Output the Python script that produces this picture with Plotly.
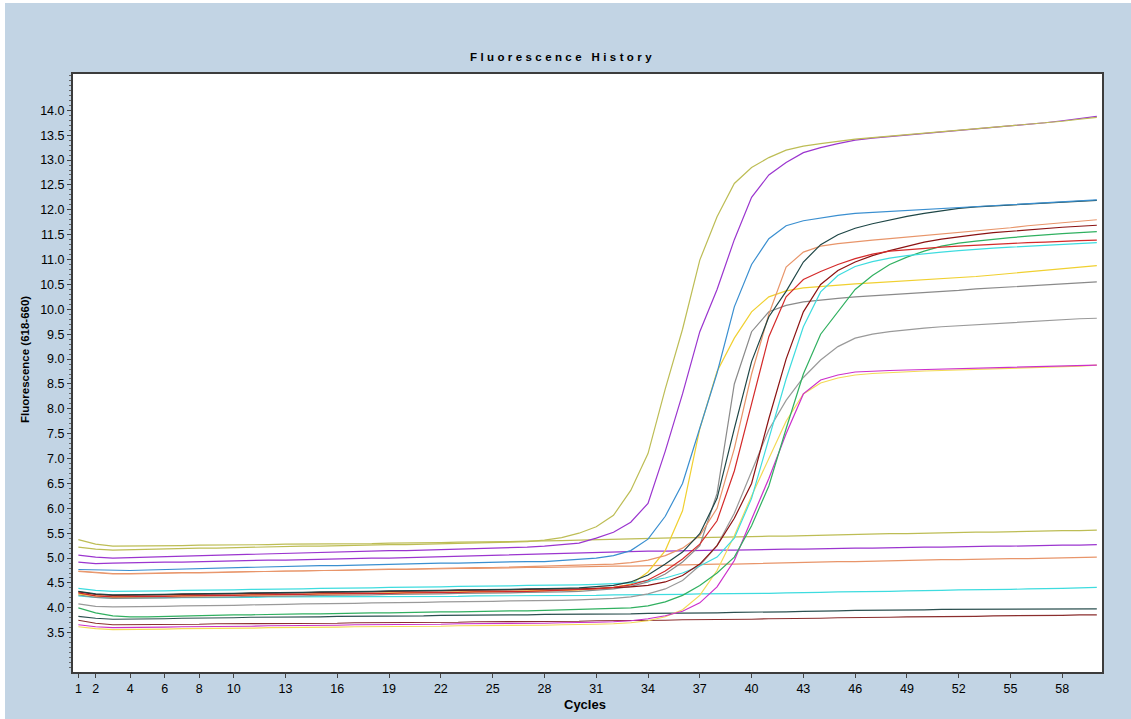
import plotly.graph_objects as go

cycles = list(range(1, 61))

olive_amp = [5.22, 5.18, 5.16, 5.17, 5.18, 5.18, 5.19, 5.20, 5.20, 5.21,
             5.22, 5.22, 5.23, 5.24, 5.24, 5.25, 5.26, 5.26, 5.27, 5.27,
             5.28, 5.29, 5.29, 5.30, 5.31, 5.32, 5.33, 5.36, 5.41, 5.50,
             5.63, 5.86, 6.36, 7.10, 8.40, 9.60, 10.99, 11.86, 12.53, 12.85,
             13.05, 13.20, 13.28, 13.33, 13.38, 13.42, 13.45, 13.48, 13.51, 13.54,
             13.57, 13.60, 13.62, 13.65, 13.68, 13.71, 13.74, 13.78, 13.82, 13.86]
purple_amp = [5.06, 5.02, 5.00, 5.01, 5.02, 5.03, 5.04, 5.05, 5.06, 5.07,
              5.08, 5.08, 5.09, 5.10, 5.11, 5.12, 5.13, 5.14, 5.15, 5.15,
              5.16, 5.17, 5.17, 5.18, 5.19, 5.20, 5.22, 5.24, 5.27, 5.30,
              5.40, 5.52, 5.72, 6.10, 7.15, 8.30, 9.55, 10.40, 11.40, 12.25,
              12.70, 12.95, 13.15, 13.25, 13.33, 13.40, 13.44, 13.47, 13.51, 13.54,
              13.57, 13.60, 13.63, 13.66, 13.69, 13.72, 13.75, 13.79, 13.83, 13.88]
blue_amp = [4.77, 4.76, 4.75, 4.75, 4.76, 4.77, 4.78, 4.79, 4.80, 4.81,
            4.82, 4.82, 4.83, 4.84, 4.85, 4.85, 4.86, 4.87, 4.88, 4.88,
            4.89, 4.90, 4.90, 4.91, 4.91, 4.92, 4.93, 4.93, 4.95, 4.97,
            5.00, 5.05, 5.15, 5.38, 5.84, 6.50, 7.60, 8.72, 10.05, 10.90,
            11.42, 11.68, 11.78, 11.84, 11.89, 11.93, 11.95, 11.97, 11.99, 12.01,
            12.03, 12.05, 12.07, 12.09, 12.11, 12.13, 12.15, 12.17, 12.19, 12.20]
darkteal_amp = [4.33, 4.28, 4.26, 4.26, 4.27, 4.27, 4.28, 4.28, 4.29, 4.29,
                4.30, 4.30, 4.31, 4.31, 4.32, 4.32, 4.33, 4.33, 4.34, 4.34,
                4.35, 4.35, 4.36, 4.36, 4.37, 4.37, 4.38, 4.38, 4.39, 4.40,
                4.42, 4.45, 4.52, 4.66, 4.88, 5.12, 5.49, 6.20, 7.60, 8.95,
                9.85, 10.36, 10.95, 11.30, 11.50, 11.63, 11.72, 11.80, 11.87, 11.93,
                11.98, 12.03, 12.06, 12.08, 12.10, 12.12, 12.14, 12.16, 12.18, 12.19]
salmon_amp = [4.73, 4.70, 4.68, 4.68, 4.69, 4.69, 4.70, 4.70, 4.71, 4.72,
              4.72, 4.73, 4.74, 4.74, 4.75, 4.76, 4.76, 4.77, 4.78, 4.78,
              4.79, 4.80, 4.80, 4.81, 4.81, 4.82, 4.82, 4.83, 4.84, 4.85,
              4.86, 4.88, 4.91, 4.96, 5.05, 5.20, 5.45, 6.00, 7.20, 8.70,
              9.90, 10.85, 11.15, 11.27, 11.32, 11.36, 11.39, 11.42, 11.45, 11.48,
              11.51, 11.54, 11.57, 11.61, 11.64, 11.68, 11.71, 11.74, 11.77, 11.80]
red_amp = [4.30, 4.24, 4.22, 4.22, 4.23, 4.23, 4.24, 4.24, 4.25, 4.25,
           4.26, 4.26, 4.27, 4.27, 4.28, 4.28, 4.28, 4.29, 4.29, 4.30,
           4.30, 4.31, 4.31, 4.32, 4.32, 4.33, 4.33, 4.34, 4.35, 4.36,
           4.38, 4.41, 4.46, 4.56, 4.74, 4.98, 5.28, 5.75, 6.75, 8.10,
           9.45, 10.25, 10.60, 10.76, 10.90, 11.02, 11.11, 11.17, 11.20, 11.23,
           11.25, 11.27, 11.29, 11.31, 11.33, 11.34, 11.35, 11.37, 11.38, 11.39]
darkred_amp = [4.32, 4.27, 4.25, 4.25, 4.26, 4.26, 4.27, 4.27, 4.28, 4.28,
               4.29, 4.29, 4.30, 4.30, 4.31, 4.31, 4.32, 4.32, 4.33, 4.33,
               4.34, 4.34, 4.35, 4.35, 4.36, 4.36, 4.37, 4.37, 4.38, 4.38,
               4.39, 4.40, 4.42, 4.45, 4.52, 4.65, 4.88, 5.25, 5.80, 6.50,
               7.80, 9.00, 9.95, 10.50, 10.78, 10.95, 11.08, 11.18, 11.27, 11.35,
               11.41, 11.46, 11.50, 11.54, 11.57, 11.60, 11.62, 11.65, 11.67, 11.69]
cyan_amp = [4.39, 4.35, 4.33, 4.33, 4.34, 4.34, 4.35, 4.35, 4.36, 4.36,
            4.37, 4.37, 4.38, 4.38, 4.39, 4.39, 4.40, 4.40, 4.41, 4.41,
            4.42, 4.42, 4.43, 4.43, 4.44, 4.44, 4.45, 4.45, 4.46, 4.46,
            4.47, 4.48, 4.50, 4.54, 4.60, 4.70, 4.84, 5.02, 5.40, 6.20,
            7.40, 8.60, 9.65, 10.35, 10.68, 10.86, 10.96, 11.03, 11.08, 11.12,
            11.15, 11.18, 11.21, 11.23, 11.25, 11.27, 11.29, 11.31, 11.33, 11.34]
green_amp = [4.00, 3.90, 3.84, 3.82, 3.82, 3.83, 3.84, 3.85, 3.85, 3.86,
             3.86, 3.87, 3.87, 3.88, 3.88, 3.89, 3.89, 3.90, 3.90, 3.91,
             3.91, 3.92, 3.92, 3.93, 3.93, 3.94, 3.94, 3.95, 3.95, 3.96,
             3.97, 3.98, 4.00, 4.04, 4.12, 4.25, 4.45, 4.70, 5.02, 5.65,
             6.45, 7.60, 8.70, 9.50, 9.95, 10.40, 10.68, 10.90, 11.05, 11.17,
             11.27, 11.33, 11.37, 11.41, 11.44, 11.47, 11.50, 11.52, 11.54, 11.56]
yellow_amp = [4.28, 4.24, 4.22, 4.22, 4.23, 4.23, 4.24, 4.24, 4.25, 4.25,
              4.26, 4.26, 4.27, 4.27, 4.28, 4.28, 4.29, 4.29, 4.30, 4.30,
              4.31, 4.31, 4.32, 4.32, 4.33, 4.33, 4.34, 4.34, 4.35, 4.36,
              4.38, 4.41, 4.47, 4.72, 5.15, 5.95, 7.60, 8.75, 9.42, 9.95,
              10.25, 10.37, 10.43, 10.46, 10.49, 10.51, 10.53, 10.55, 10.57, 10.59,
              10.61, 10.63, 10.66, 10.69, 10.72, 10.75, 10.78, 10.81, 10.85, 10.88]
gray_amp = [4.26, 4.21, 4.19, 4.19, 4.20, 4.20, 4.21, 4.21, 4.22, 4.22,
            4.23, 4.23, 4.24, 4.24, 4.25, 4.25, 4.26, 4.26, 4.27, 4.27,
            4.28, 4.28, 4.29, 4.29, 4.30, 4.30, 4.31, 4.31, 4.32, 4.33,
            4.35, 4.38, 4.43, 4.52, 4.68, 4.92, 5.25, 6.30, 8.50, 9.55,
            9.95, 10.08, 10.15, 10.19, 10.22, 10.25, 10.27, 10.29, 10.31, 10.33,
            10.36, 10.38, 10.41, 10.43, 10.45, 10.47, 10.49, 10.51, 10.54, 10.55]
gray2_amp = [4.08, 4.03, 4.02, 4.02, 4.03, 4.03, 4.04, 4.04, 4.05, 4.05,
             4.06, 4.06, 4.07, 4.08, 4.08, 4.09, 4.09, 4.10, 4.10, 4.11,
             4.11, 4.12, 4.12, 4.13, 4.13, 4.14, 4.14, 4.15, 4.15, 4.16,
             4.17, 4.19, 4.22, 4.28, 4.38, 4.55, 4.85, 5.25, 5.90, 6.75,
             7.58, 8.17, 8.63, 8.98, 9.25, 9.42, 9.50, 9.55, 9.59, 9.62,
             9.65, 9.67, 9.70, 9.72, 9.74, 9.76, 9.78, 9.80, 9.81, 9.82]
magenta_amp = [3.66, 3.62, 3.60, 3.60, 3.61, 3.61, 3.62, 3.62, 3.63, 3.63,
               3.63, 3.64, 3.64, 3.65, 3.65, 3.65, 3.66, 3.66, 3.66, 3.67,
               3.67, 3.67, 3.68, 3.68, 3.68, 3.69, 3.69, 3.69, 3.70, 3.70,
               3.71, 3.72, 3.74, 3.78, 3.84, 3.93, 4.10, 4.42, 4.95, 5.78,
               6.60, 7.50, 8.30, 8.58, 8.68, 8.74, 8.76, 8.77, 8.78, 8.79,
               8.80, 8.80, 8.81, 8.82, 8.83, 8.84, 8.85, 8.86, 8.87, 8.88]
yellow2_amp = [3.62, 3.58, 3.56, 3.56, 3.57, 3.57, 3.58, 3.58, 3.58, 3.59,
               3.59, 3.60, 3.60, 3.60, 3.61, 3.61, 3.62, 3.62, 3.62, 3.63,
               3.63, 3.63, 3.64, 3.64, 3.64, 3.65, 3.65, 3.65, 3.66, 3.66,
               3.67, 3.68, 3.70, 3.74, 3.82, 3.96, 4.25, 4.75, 5.45, 6.25,
               7.00, 7.75, 8.30, 8.52, 8.62, 8.68, 8.71, 8.73, 8.75, 8.76,
               8.77, 8.78, 8.79, 8.80, 8.81, 8.82, 8.83, 8.84, 8.86, 8.88]
olive_flat = [5.37, 5.28, 5.24, 5.24, 5.25, 5.25, 5.25, 5.26, 5.26, 5.27,
              5.27, 5.27, 5.28, 5.28, 5.28, 5.29, 5.29, 5.29, 5.30, 5.30,
              5.31, 5.31, 5.32, 5.32, 5.33, 5.33, 5.34, 5.34, 5.35, 5.36,
              5.37, 5.38, 5.38, 5.39, 5.40, 5.41, 5.41, 5.42, 5.42, 5.43,
              5.44, 5.44, 5.45, 5.46, 5.46, 5.47, 5.48, 5.49, 5.49, 5.50,
              5.51, 5.51, 5.52, 5.52, 5.53, 5.54, 5.54, 5.55, 5.55, 5.56]
purple_flat = [4.92, 4.89, 4.90, 4.91, 4.91, 4.92, 4.92, 4.93, 4.94, 4.94,
               4.95, 4.96, 4.96, 4.97, 4.98, 4.98, 4.99, 5.00, 5.00, 5.01,
               5.02, 5.03, 5.04, 5.05, 5.06, 5.07, 5.08, 5.09, 5.10, 5.11,
               5.12, 5.13, 5.13, 5.14, 5.14, 5.15, 5.15, 5.16, 5.16, 5.17,
               5.17, 5.18, 5.18, 5.19, 5.19, 5.20, 5.20, 5.21, 5.21, 5.22,
               5.22, 5.23, 5.23, 5.24, 5.24, 5.25, 5.25, 5.26, 5.26, 5.27]
orange_flat = [4.74, 4.71, 4.69, 4.69, 4.70, 4.70, 4.71, 4.71, 4.72, 4.72,
               4.73, 4.73, 4.74, 4.74, 4.75, 4.75, 4.76, 4.76, 4.77, 4.77,
               4.78, 4.78, 4.79, 4.79, 4.80, 4.80, 4.81, 4.81, 4.82, 4.82,
               4.83, 4.84, 4.84, 4.85, 4.86, 4.86, 4.87, 4.88, 4.88, 4.89,
               4.90, 4.90, 4.91, 4.92, 4.93, 4.93, 4.94, 4.95, 4.95, 4.96,
               4.97, 4.97, 4.98, 4.98, 4.99, 4.99, 5.00, 5.01, 5.01, 5.02]
cyan_flat = [4.24, 4.21, 4.20, 4.20, 4.20, 4.20, 4.21, 4.21, 4.21, 4.21,
             4.21, 4.22, 4.22, 4.22, 4.22, 4.22, 4.22, 4.22, 4.23, 4.23,
             4.23, 4.23, 4.23, 4.24, 4.24, 4.24, 4.24, 4.24, 4.25, 4.25,
             4.25, 4.26, 4.26, 4.26, 4.27, 4.27, 4.28, 4.28, 4.28, 4.29,
             4.29, 4.30, 4.30, 4.31, 4.32, 4.32, 4.33, 4.33, 4.34, 4.34,
             4.35, 4.36, 4.36, 4.37, 4.37, 4.38, 4.38, 4.39, 4.40, 4.41]
darkteal_flat = [3.83, 3.79, 3.77, 3.77, 3.78, 3.78, 3.79, 3.79, 3.80, 3.80,
                 3.81, 3.81, 3.81, 3.82, 3.82, 3.83, 3.83, 3.83, 3.84, 3.84,
                 3.84, 3.85, 3.85, 3.85, 3.86, 3.86, 3.86, 3.87, 3.87, 3.87,
                 3.88, 3.88, 3.88, 3.89, 3.89, 3.90, 3.90, 3.90, 3.91, 3.91,
                 3.92, 3.92, 3.93, 3.93, 3.94, 3.95, 3.95, 3.96, 3.96, 3.96,
                 3.97, 3.97, 3.97, 3.97, 3.97, 3.98, 3.98, 3.98, 3.98, 3.98]
brown_flat = [3.75, 3.69, 3.66, 3.66, 3.66, 3.67, 3.67, 3.67, 3.68, 3.68,
              3.68, 3.68, 3.69, 3.69, 3.69, 3.69, 3.70, 3.70, 3.70, 3.70,
              3.71, 3.71, 3.71, 3.72, 3.72, 3.72, 3.72, 3.73, 3.73, 3.73,
              3.74, 3.74, 3.74, 3.75, 3.75, 3.76, 3.76, 3.76, 3.77, 3.77,
              3.78, 3.78, 3.79, 3.79, 3.80, 3.80, 3.81, 3.81, 3.82, 3.82,
              3.82, 3.83, 3.83, 3.84, 3.84, 3.85, 3.85, 3.85, 3.86, 3.86]

series = [
    ("olive flat", olive_flat, "#BDBD55"),
    ("purple flat", purple_flat, "#9B35CF"),
    ("orange flat", orange_flat, "#E8956A"),
    ("cyan flat", cyan_flat, "#3EDCDF"),
    ("dark teal flat", darkteal_flat, "#2C5050"),
    ("brown flat", brown_flat, "#8B2E2E"),
    ("gray2", gray2_amp, "#9A9A9A"),
    ("gray", gray_amp, "#8A8A8A"),
    ("yellow2", yellow2_amp, "#F3DA55"),
    ("magenta", magenta_amp, "#CC30CC"),
    ("yellow", yellow_amp, "#F0D030"),
    ("green", green_amp, "#30B060"),
    ("cyan", cyan_amp, "#3EDCDF"),
    ("dark red", darkred_amp, "#8B1212"),
    ("red", red_amp, "#D42A2A"),
    ("salmon", salmon_amp, "#E8956A"),
    ("dark teal", darkteal_amp, "#1E4646"),
    ("blue", blue_amp, "#3A8FD0"),
    ("purple", purple_amp, "#9B35CF"),
    ("olive", olive_amp, "#BDBD55"),
]

x_tickvals = [1, 2, 4, 6, 8, 10, 13, 16, 19, 22, 25, 28, 31, 34, 37, 40, 43, 46, 49, 52, 55, 58]
y_tickvals = [3.5, 4.0, 4.5, 5.0, 5.5, 6.0, 6.5, 7.0, 7.5, 8.0, 8.5, 9.0, 9.5, 10.0,
              10.5, 11.0, 11.5, 12.0, 12.5, 13.0, 13.5, 14.0]
y_ticktext = [f"{v:.1f}" for v in y_tickvals]

fig = go.Figure()
for name, vals, color in series:
    fig.add_trace(go.Scatter(x=cycles, y=vals, mode="lines", name=name,
                             line=dict(color=color, width=1.2), showlegend=False,
                             hoverinfo="skip"))

W, H = 1131, 719
L, R, T, B = 73, 29, 74, 47
pw, ph = W - L - R, H - T - B

def px(xp):
    return (xp - L) / pw

def py(yp):
    return (H - B - yp) / ph

tick_font = dict(family="Liberation Sans, Arial, sans-serif", size=12.5, color="#000000")

fig.update_layout(
    width=W, height=H, autosize=False,
    margin=dict(l=L, r=R, t=T, b=B, pad=0),
    paper_bgcolor="#C2D4E4",
    plot_bgcolor="#FFFFFF",
    xaxis=dict(range=[0.69, 60.3], tickmode="array", tickvals=x_tickvals,
               ticktext=[str(v) for v in x_tickvals], ticks="outside", ticklen=4,
               tickcolor="#444444", tickfont=tick_font, showgrid=False, zeroline=False,
               showline=True, linecolor="#3C3C3C", linewidth=2, mirror=True),
    yaxis=dict(range=[2.71, 14.73], tickmode="array", tickvals=y_tickvals,
               ticktext=y_ticktext, ticks="outside", ticklen=4, tickcolor="#444444",
               tickfont=tick_font, showgrid=False, zeroline=False,
               showline=True, linecolor="#3C3C3C", linewidth=2, mirror=True,
               minor=dict(tickmode="linear", tick0=0, dtick=0.1, ticks="outside",
                          ticklen=2, tickcolor="#666666", showgrid=False)),
    annotations=[
        dict(text='<b><span style="letter-spacing:3.4px">Fluorescence History</span></b>',
             xref="paper", yref="paper", x=px(562), y=py(57), xanchor="center",
             yanchor="middle", showarrow=False,
             font=dict(family="Liberation Sans, Arial, sans-serif", size=11.5, color="#000000")),
        dict(text="<b>Fluorescence (618-660)</b>", xref="paper", yref="paper",
             x=px(25), y=py(360), xanchor="center", yanchor="middle", textangle=-90,
             showarrow=False,
             font=dict(family="Liberation Sans, Arial, sans-serif", size=11.5, color="#000000")),
        dict(text="<b>Cycles</b>", xref="paper", yref="paper",
             x=px(585), y=py(704), xanchor="center", yanchor="middle", showarrow=False,
             font=dict(family="Liberation Sans, Arial, sans-serif", size=13, color="#000000")),
    ],
    shapes=[
        dict(type="rect", xref="paper", yref="paper", x0=px(0), x1=px(5), y0=py(H), y1=py(0),
             fillcolor="#FFFFFF", line=dict(width=0), layer="above"),
        dict(type="rect", xref="paper", yref="paper", x0=px(0), x1=px(W), y0=py(3), y1=py(0),
             fillcolor="#FFFFFF", line=dict(width=0), layer="above"),
    ],
)

fig.write_html("out.html", config={"displayModeBar": False},
               post_script="document.body.style.margin='0';document.body.style.padding='0';document.body.style.overflow='hidden';")
